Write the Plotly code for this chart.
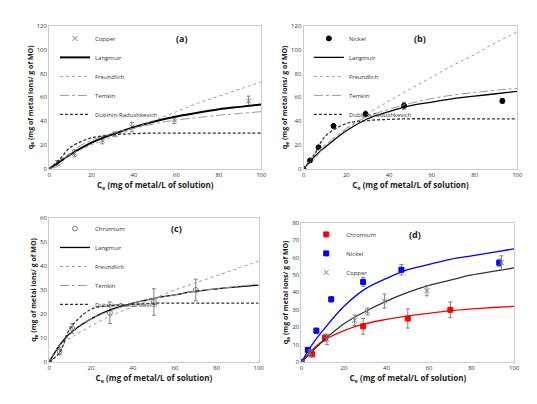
import plotly.graph_objects as go
from plotly.subplots import make_subplots

# experimental data
cu_x = [0, 4, 12, 25, 31, 39, 59, 94]
cu_y = [0, 5, 13, 24, 29, 35, 41, 57]
cu_err = [0, 2, 3, 3, 2, 4, 3, 4]
ni_x = [0, 3, 7, 14, 29, 47, 93]
ni_y = [0, 7, 18, 36, 46, 53, 57]
ni_err = [0, 1, 1.5, 1.5, 2.5, 3, 2]
cr_x = [0, 5, 11, 29, 50, 70]
cr_y = [0, 4.5, 14, 20.5, 25, 30]
cr_err = [0, 1.5, 2, 4.5, 5.5, 4.5]

# model curves
fx = [0, 5, 10, 20, 30, 40, 50, 60, 70, 80, 90, 100]
cu_lang = [0, 6, 12, 22, 29, 35, 40, 44, 47, 50, 52, 54]
cu_freu = [0, 7, 12, 20, 27, 34, 41, 48, 55, 61, 67, 73]
cu_temk = [0, 3, 14, 24, 30, 34, 38, 41, 43, 45, 46.5, 48]
cu_dr = [0, 8, 18, 26, 28.5, 29.5, 30, 30, 30, 30, 30, 30]
ni_lang = [0, 10, 18, 32, 42, 48, 53, 56, 59, 61, 63, 65]
ni_freu = [0, 12, 20, 33, 46, 57, 67, 77, 87, 96, 106, 115]
ni_temk = [0, 8, 19, 34, 44, 50, 55, 59, 62, 64, 66, 67.5]
ni_dr = [0, 12, 27, 38, 40.5, 41.5, 42, 42, 42, 42, 42, 42]
cr_lang = [0, 7, 12, 18, 22, 24.5, 26.5, 28, 29.5, 30.5, 31.3, 32]
cr_freu = [0, 7, 10, 15, 19.5, 23, 26.5, 30, 33, 36, 39, 42]
cr_temk = [0, 4, 12, 18, 21.5, 24.5, 26.5, 28, 29.5, 30.5, 31.5, 32.5]
cr_dr = [0, 4, 14, 22, 23.5, 24, 24.5, 24.5, 24.5, 24.5, 24.5, 24.5]

fig = make_subplots(rows=2, cols=2)

def panel(row, col, leg, name, x, y, err, sym, mcol, lang, freu, temk, dr, lw):
    fig.add_trace(go.Scatter(x=x, y=y, mode='markers', name=name, legend=leg,
                             marker=dict(symbol=sym, size=5, color=mcol,
                                         line=dict(color=mcol, width=1)),
                             error_y=dict(array=err, color='gray', thickness=1, width=2)),
                  row=row, col=col)
    styles = [('Langmuir', lang, 'solid', 'black', lw),
              ('Freundlich', freu, 'dot', '#999', 1),
              ('Temkin', temk, 'dashdot', '#999', 1),
              ('Dubinin-Radushkevich', dr, '3px,2px', '#333', 1.3)]
    for nm, vals, dash, c, w in styles:
        fig.add_trace(go.Scatter(x=fx, y=vals, mode='lines', name=nm, legend=leg,
                                 line=dict(shape='spline', dash=dash, color=c, width=w)),
                      row=row, col=col)

panel(1, 1, 'legend', 'Copper', cu_x, cu_y, cu_err, 'x-thin', 'gray', cu_lang, cu_freu, cu_temk, cu_dr, 2)
panel(1, 2, 'legend2', 'Nickel', ni_x, ni_y, ni_err, 'circle', 'black', ni_lang, ni_freu, ni_temk, ni_dr, 1.3)
panel(2, 1, 'legend3', 'Chromium', cr_x, cr_y, cr_err, 'circle-open', 'gray', cr_lang, cr_freu, cr_temk, cr_dr, 1.3)

# panel d
for name, x, y, err, lang, c, sym in [('Chromium', cr_x, cr_y, cr_err, cr_lang, 'red', 'square'),
                                      ('Nickel', ni_x, ni_y, ni_err, ni_lang, 'blue', 'square'),
                                      ('Copper', cu_x, cu_y, cu_err, cu_lang, 'gray', 'x-thin')]:
    fig.add_trace(go.Scatter(x=fx, y=lang, mode='lines', showlegend=False,
                             line=dict(shape='spline', color=c if c != 'gray' else '#333', width=1.3)),
                  row=2, col=2)
    fig.add_trace(go.Scatter(x=x, y=y, mode='markers', name=name, legend='legend4',
                             marker=dict(symbol=sym, size=5, color=c, line=dict(color=c, width=1)),
                             error_y=dict(array=err, color='gray', thickness=1, width=2)),
                  row=2, col=2)

doms = [([0.074, 0.475], [0.604, 0.965]), ([0.555, 0.959], [0.604, 0.965]),
        ([0.074, 0.47], [0.116, 0.48]), ([0.551, 0.953], [0.116, 0.468])]
yr = [(120, 20), (120, 20), (60, 10), (80, 10)]
f = dict(family='Open Sans', size=6, color='#333')
for i, ((xd, yd), (ym, dt)) in enumerate(zip(doms, yr)):
    s = '' if i == 0 else str(i + 1)
    fig.layout['xaxis' + s].update(domain=xd, range=[0, 100], dtick=20, showgrid=False, zeroline=False,
                                   showline=True, linecolor='#ccc', mirror=True, ticks='', tickfont=f,
                                   title=dict(text='<b>C<sub>e</sub> (mg of metal/L of solution)</b>', font=dict(family='Open Sans', size=8, color='#222'), standoff=2))
    fig.layout['yaxis' + s].update(domain=yd, range=[0, ym], dtick=dt, showgrid=False, zeroline=False,
                                   showline=True, linecolor='#ccc', mirror=True, ticks='', tickfont=f,
                                   title=dict(text='<b>q<sub>e</sub> (mg of metal ions/ g of MO)</b>', font=dict(family='Open Sans', size=7, color='#222'), standoff=2))

legpos = [(0.085, 0.97), (0.565, 0.97), (0.085, 0.49), (0.56, 0.475)]
for i, (lx, ly) in enumerate(legpos):
    s = '' if i == 0 else str(i + 1)
    fig.layout['legend' + s] = dict(x=lx, y=ly, xanchor='left', yanchor='top',
                                    font=dict(family='Open Sans', size=6, color='#333'),
                                    bgcolor='rgba(0,0,0,0)', tracegroupgap=0, itemwidth=30,
                                    borderwidth=0)

for txt, x, y in [('(a)', 0.31, 0.955), ('(b)', 0.79, 0.955), ('(c)', 0.3, 0.475), ('(d)', 0.78, 0.46)]:
    fig.add_annotation(text='<b>' + txt + '</b>', x=x, y=y, xref='paper', yref='paper',
                       showarrow=False, font=dict(family='Open Sans', size=9, color='#222'), yanchor='top')

fig.update_layout(width=537, height=404, margin=dict(l=0, r=0, t=0, b=0),
                  plot_bgcolor='white', paper_bgcolor='white')
fig.write_html("out.html")
